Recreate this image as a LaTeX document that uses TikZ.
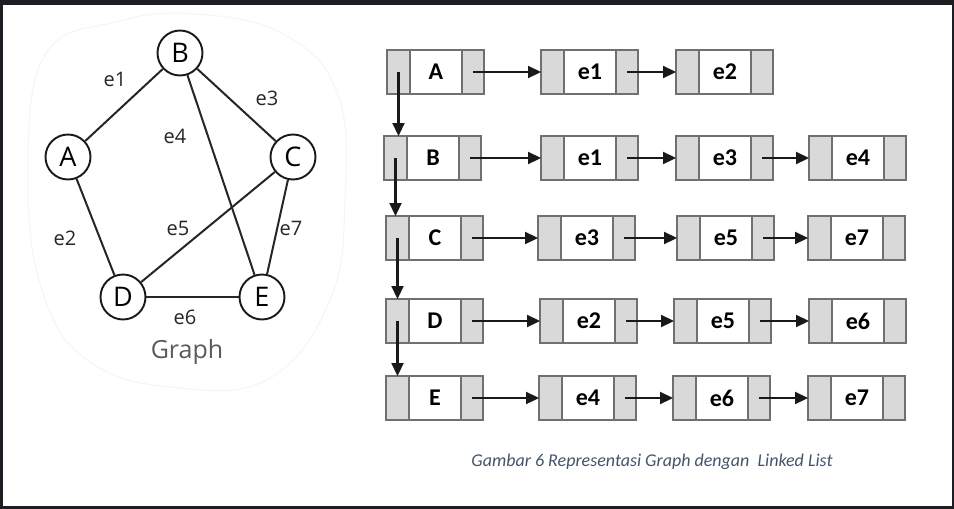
\documentclass[tikz,border=0pt]{standalone}
\usepackage{fontspec}
\setmainfont{Carlito}
\newfontfamily\gfont{Open Sans}
\usetikzlibrary{arrows.meta}
\definecolor{framec}{HTML}{1C1E24}
\definecolor{cellgray}{HTML}{D9D9D9}
\definecolor{cellline}{HTML}{707070}
\definecolor{captc}{HTML}{44546A}
\definecolor{graphc}{HTML}{5A5A5A}
\definecolor{blobc}{HTML}{F5F5F5}
\newcommand{\mkcell}[4]{%
  \node[cellg, minimum width=23pt] (#1-l) at (#2,#3) {};
  \node[cellw, minimum width=52pt] (#1-m) at (#1-l.east) {#4};
  \node[cellg, minimum width=22pt] (#1-r) at (#1-m.east) {};
}
\begin{document}
\begin{tikzpicture}[x=1pt,y=-1pt,
  cellg/.style={draw=cellline, fill=cellgray, line width=1.6pt, minimum height=44pt, inner sep=0pt, outer sep=0pt, anchor=west},
  cellw/.style={cellg, fill=white, font=\fontsize{24}{28}\selectfont\bfseries},
  arr/.style={-{Triangle[length=13pt,width=12pt]}, line width=2.2pt, black!90},
  gnode/.style={circle, draw=black!90, line width=1.9pt, minimum size=45pt, inner sep=0pt, fill=white, font=\gfont\fontsize{27}{30}\selectfont},
  elabel/.style={font=\gfont\fontsize{20}{24}\selectfont, text=black!85},
  gedge/.style={line width=2pt, black!85}]
\fill[framec] (0,0) rectangle (954,509);
\fill[white] (3,5) rectangle (952,506);
\useasboundingbox (0,0) rectangle (954,509);
% faint blob
\draw[blobc, line width=1pt] plot[smooth cycle, tension=0.7] coordinates {(45,55) (115,22) (195,14) (285,35) (338,95) (345,200) (330,300) (270,378) (180,388) (90,362) (42,290) (28,170)};
% graph
\node[gnode] (A) at (68,157) {A};
\node[gnode] (B) at (180,53) {B};
\node[gnode] (C) at (293,157) {C};
\node[gnode] (D) at (123,297) {D};
\node[gnode] (E) at (262,297) {E};
\draw[gedge] (A) -- (B);
\draw[gedge] (B) -- (C);
\draw[gedge] (B) -- (E);
\draw[gedge] (C) -- (D);
\draw[gedge] (C) -- (E);
\draw[gedge] (A) -- (D);
\draw[gedge] (D) -- (E);
\node[elabel] (l1) at (115,79) {e1};
\node[elabel] (l3) at (267,98) {e3};
\node[elabel] (l4) at (175,136) {e4};
\node[elabel] (l5) at (178,228) {e5};
\node[elabel] (l7) at (291,228) {e7};
\node[elabel] (l2) at (65,238) {e2};
\node[elabel] (l6) at (185,317) {e6};
\node[font=\gfont\fontsize{25}{30}\selectfont, text=graphc] (gcap) at (187,352) {Graph};
% linked lists
\mkcell{a0}{387}{72}{A}
\mkcell{a1}{541}{72}{e1}
\mkcell{a2}{676}{72}{e2}
\mkcell{b0}{384}{158}{B}
\mkcell{b1}{541}{158}{e1}
\mkcell{b2}{676}{158}{e3}
\mkcell{b3}{809}{158}{e4}
\mkcell{c0}{386}{238}{C}
\mkcell{c1}{538}{238}{e3}
\mkcell{c2}{677}{238}{e5}
\mkcell{c3}{808}{238}{e7}
\mkcell{d0}{386}{321}{D}
\mkcell{d1}{540}{321}{e2}
\mkcell{d2}{674}{321}{e5}
\mkcell{d3}{809}{321}{e6}
\mkcell{e0}{386}{398}{E}
\mkcell{e1}{539}{398}{e4}
\mkcell{e2}{673}{398}{e6}
\mkcell{e3}{808}{398}{e7}
\foreach \r/\n in {a/2,b/3,c/3,d/3,e/3}{
  \foreach \i [evaluate=\i as \j using int(\i+1)] in {0,...,\numexpr\n-1\relax}{
    \draw[arr] (\r\i-r.center) -- (\r\j-l.west);
  }
}
\foreach \p/\q in {a/b,b/c,c/d,d/e}{
  \draw[arr] (\p0-l.center) -- (\p0-l.center |- \q0-l.north);
}
\node[font=\itshape\fontsize{18}{22}\selectfont, text=captc] (cap) at (652,462) {Gambar 6 Representasi Graph dengan\ \ Linked List};
\end{tikzpicture}
\end{document}
